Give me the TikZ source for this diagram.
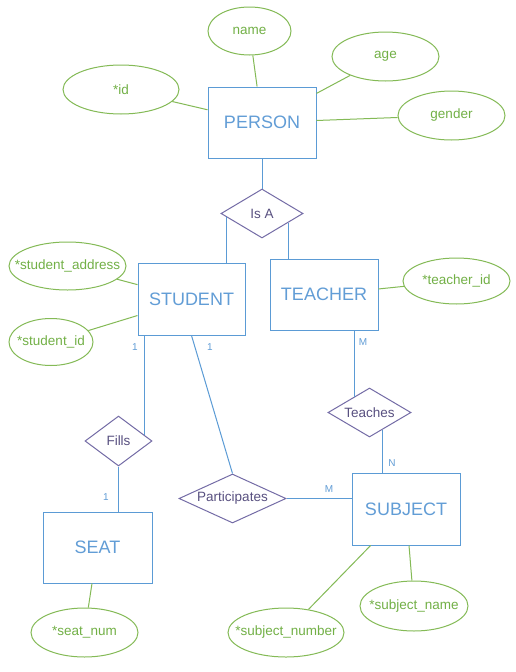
\documentclass[tikz,border=0pt]{standalone}
\usepackage{fontspec}
\setmainfont{Liberation Sans}
\usetikzlibrary{shapes.geometric,calc}

\definecolor{entblue}{RGB}{91,155,213}
\definecolor{enttext}{RGB}{98,157,214}
\definecolor{relpurple}{RGB}{116,108,166}
\definecolor{reltext}{RGB}{88,80,128}
\definecolor{attgreen}{RGB}{132,186,86}
\definecolor{atttext}{RGB}{114,176,70}

% zero-width box so an ellipse or diamond takes its size from minimum width/height
\newcommand\ztext[1]{\makebox[0pt]{#1}}

\tikzset{
  entity/.style={draw=entblue, rectangle, inner sep=0pt, line width=1pt,
    text=enttext, font=\fontsize{18}{20}\selectfont},
  attr/.style={draw=attgreen, ellipse, inner sep=0pt, line width=1pt,
    text=atttext, font=\fontsize{13.5}{15}\selectfont},
  rel/.style={draw=relpurple, diamond, inner sep=0pt, line width=1pt,
    text=reltext, font=\fontsize{13.5}{15}\selectfont},
  card/.style={inner sep=0pt, text=enttext, font=\fontsize{10}{12}\selectfont},
  elink/.style={draw=entblue, line width=1pt},
  alink/.style={draw=attgreen, line width=1pt},
}

\begin{document}
\begin{tikzpicture}[x=1pt,y=-1pt]
\fill[white] (0,0) rectangle (516,672);
\useasboundingbox (0,0) rectangle (516,672);

% entities
\node[entity, minimum width=108, minimum height=71] (person)  at (262,122.5) {PERSON};
\node[entity, minimum width=107, minimum height=72] (student) at (191.5,299) {STUDENT};
\node[entity, minimum width=108, minimum height=71] (teacher) at (324,294.5) {TEACHER};
\node[entity, minimum width=108, minimum height=72] (subject) at (406,509) {SUBJECT};
\node[entity, minimum width=109, minimum height=71] (seat)    at (97.5,547.5) {SEAT};

% attributes
\node[attr, minimum width=83,  minimum height=48] (name)    at (249.5,31)   {\ztext{name}};
\node[attr, minimum width=107, minimum height=49] (age)     at (385.5,56.5) {\ztext{age}};
\node[attr, minimum width=116, minimum height=49] (pid)     at (121,89.5)   {\ztext{*id}};
\node[attr, minimum width=107, minimum height=49] (gender)  at (451.5,115.5) {\ztext{gender}};
\node[attr, minimum width=117, minimum height=48] (saddr)   at (67.5,266)   {\ztext{*student\_address}};
\node[attr, minimum width=84,  minimum height=47] (sid)     at (51,342)     {\ztext{*student\_id}};
\node[attr, minimum width=107, minimum height=46] (tid)     at (456.5,281)  {\ztext{*teacher\_id}};
\node[attr, minimum width=107, minimum height=49] (seatnum) at (84.5,632.5) {\ztext{*seat\_num}};
\node[attr, minimum width=108, minimum height=50] (subname) at (414,606)    {\ztext{*subject\_name}};
\node[attr, minimum width=116, minimum height=49] (subnum)  at (286,632.5)  {\ztext{*subject\_number}};

% relationships
\node[rel, minimum width=82,  minimum height=49] (isa)     at (262,213.5)   {\ztext{Is A}};
\node[rel, minimum width=67,  minimum height=50] (fills)   at (118.5,441)   {\ztext{Fills}};
\node[rel, minimum width=107, minimum height=49] (part)    at (232.5,498.5) {\ztext{Participates}};
\node[rel, minimum width=83,  minimum height=49] (teaches) at (369.5,412.5) {\ztext{Teaches}};

% attribute links
\draw[alink] (name) -- (person);
\draw[alink] (age) -- (person);
\draw[alink] (pid) -- (person);
\draw[alink] (gender) -- (person);
\draw[alink] (saddr) -- (student);
\draw[alink] (sid) -- (student);
\draw[alink] (tid) -- (teacher);
\draw[alink] (seatnum) -- (seat);
\draw[alink] (subname) -- (subject);
\draw[alink] (subnum) -- (subject);

% points where vertical connectors meet the diamond edges
\coordinate (isaL)   at ($(isa.west)!0.146!(isa.south)$);
\coordinate (isaR)   at ($(isa.east)!0.366!(isa.south)$);
\coordinate (fillsR) at ($(fills.east)!0.24!(fills.north)$);
\coordinate (teachL) at ($(teaches.west)!0.634!(teaches.north)$);
\coordinate (teachR) at ($(teaches.east)!0.7!(teaches.south)$);

% relationship links
\draw[elink] (person.south) -- (isa.north);
\draw[elink] (isaL) -- (isaL |- student.north);
\draw[elink] (isaR) -- (isaR |- teacher.north);
\draw[elink] (fillsR |- student.south) -- (fillsR);
\draw[elink] (fills.south) -- (fills.south |- seat.north);
\draw[elink] (student.south) -- (part.north);
\draw[elink] (part.east) -- (part.east -| subject.west);
\draw[elink] (teachL |- teacher.south) -- (teachL);
\draw[elink] (teachR) -- (teachR |- subject.north);

% cardinalities
\node[card] (c1) at (135,347) {1};
\node[card] (c2) at (210,347) {1};
\node[card] (c3) at (363,342) {M};
\node[card] (c4) at (106,497) {1};
\node[card] (c5) at (392,463) {N};
\node[card] (c6) at (329,489) {M};
\end{tikzpicture}
\end{document}
